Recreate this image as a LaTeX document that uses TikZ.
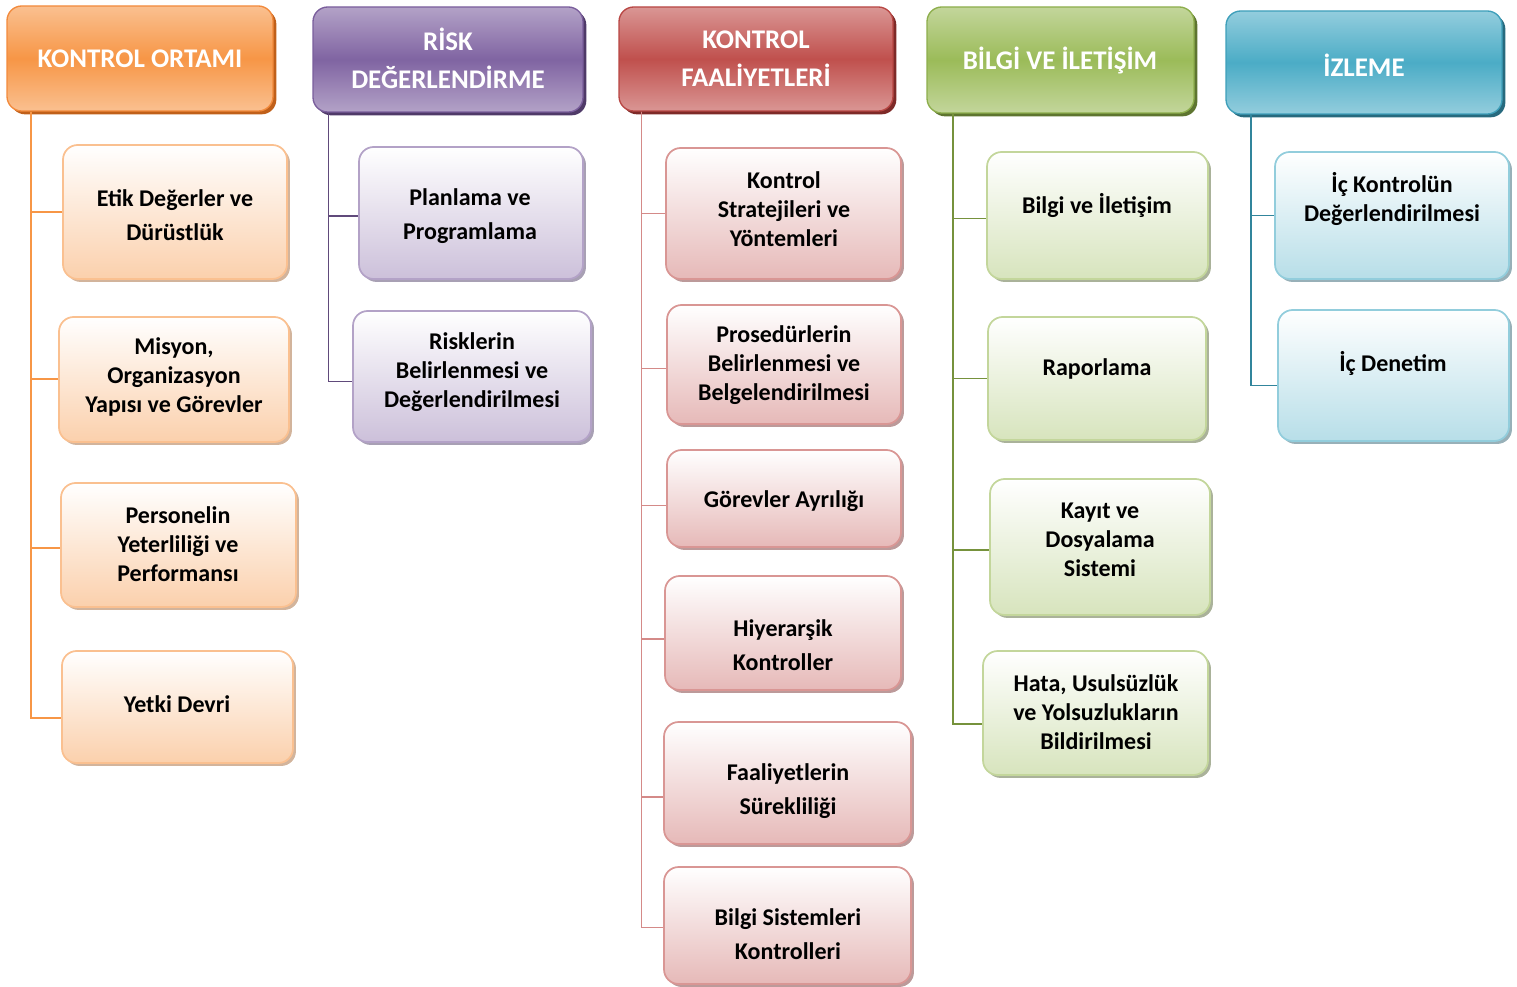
\documentclass[tikz,border=0pt]{standalone}
\usepackage{fontspec}
\setmainfont{Carlito}
\usetikzlibrary{shadows,calc}
\definecolor{oMid}{HTML}{F79646}\definecolor{oLight}{HTML}{FAC090}\definecolor{oBord}{HTML}{F28A3C}\definecolor{oShad}{HTML}{C0601A}
\definecolor{oCb}{HTML}{FAC090}\definecolor{oCf}{HTML}{FBD0AC}\definecolor{oCs}{HTML}{D2B49C}\definecolor{oLine}{HTML}{F79646}
\definecolor{pMid}{HTML}{8064A2}\definecolor{pLight}{HTML}{B3A2C7}\definecolor{pBord}{HTML}{7A5E9C}\definecolor{pShad}{HTML}{4F3A68}
\definecolor{pCb}{HTML}{B3A2C7}\definecolor{pCf}{HTML}{CCC0DA}\definecolor{pCs}{HTML}{A8A0B4}\definecolor{pLine}{HTML}{604A7B}
\definecolor{rMid}{HTML}{C0504D}\definecolor{rLight}{HTML}{DA9694}\definecolor{rBord}{HTML}{B84744}\definecolor{rShad}{HTML}{7E2A28}
\definecolor{rCb}{HTML}{D99694}\definecolor{rCf}{HTML}{E6B9B8}\definecolor{rCs}{HTML}{BC9A9A}\definecolor{rLine}{HTML}{D48A88}
\definecolor{gMid}{HTML}{9BBB59}\definecolor{gLight}{HTML}{C3D69B}\definecolor{gBord}{HTML}{8DAE4C}\definecolor{gShad}{HTML}{5E7530}
\definecolor{gCb}{HTML}{C3D69B}\definecolor{gCf}{HTML}{D7E4BD}\definecolor{gCs}{HTML}{AAB29A}\definecolor{gLine}{HTML}{76923C}
\definecolor{bMid}{HTML}{4BACC6}\definecolor{bLight}{HTML}{93CDDD}\definecolor{bBord}{HTML}{3E9FBA}\definecolor{bShad}{HTML}{276A7E}
\definecolor{bCb}{HTML}{92CDDC}\definecolor{bCf}{HTML}{B7DEE8}\definecolor{bCs}{HTML}{98B0B8}\definecolor{bLine}{HTML}{31859C}
\tikzset{
  hbox/.style n args={4}{rounded corners=11pt, draw=#1, line width=1pt, top color=#2, bottom color=#2, middle color=#3,
    drop shadow={shadow xshift=2.5pt, shadow yshift=-2.5pt, fill=#4, opacity=1}, inner sep=0pt},
  cbox/.style n args={3}{rounded corners=11pt, draw=#1, line width=1.3pt, top color=white, bottom color=#2,
    drop shadow={shadow xshift=2.2pt, shadow yshift=-2.2pt, fill=#3, opacity=1}, inner sep=0pt},
  oh/.style={hbox={oBord}{oLight}{oMid}{oShad}}, oc/.style={cbox={oCb}{oCf}{oCs}},
  ph/.style={hbox={pBord}{pLight}{pMid}{pShad}}, pc/.style={cbox={pCb}{pCf}{pCs}},
  rh/.style={hbox={rBord}{rLight}{rMid}{rShad}}, rc/.style={cbox={rCb}{rCf}{rCs}},
  gh/.style={hbox={gBord}{gLight}{gMid}{gShad}}, gc/.style={cbox={gCb}{gCf}{gCs}},
  bh/.style={hbox={bBord}{bLight}{bMid}{bShad}}, bc/.style={cbox={bCb}{bCf}{bCs}},
  htext/.style={align=center, text=white, font=\fontsize{20.2}{28.5}\selectfont\bfseries, inner sep=0pt},
  ctext/.style={align=center, text=black, font=\fontsize{18}{21.75}\selectfont\bfseries, inner sep=0pt},
  ctextw/.style={align=center, text=black, font=\fontsize{18}{25.5}\selectfont\bfseries, inner sep=0pt},
  oline/.style={draw=oLine, line width=1.5pt},
  pline/.style={draw=pLine, line width=1.2pt},
  rline/.style={draw=rLine, line width=1.2pt},
  gline/.style={draw=gLine, line width=1.3pt},
  bline/.style={draw=bLine, line width=1.3pt},
}
\newcommand\bx[6]{\node[#2, minimum width={(#5-#3)*0.75pt}, minimum height={(#6-#4)*0.75pt}] (#1) at ({(#3+#5)/2},{(#4+#6)/2}) {};}
\begin{document}
\begin{tikzpicture}[x=0.75pt,y=-0.75pt]
\useasboundingbox (0,0) rectangle (1517,987);
% headers
\bx{h1}{oh}{7}{6}{273}{111}
\bx{h2}{ph}{313}{7}{583}{112}
\bx{h3}{rh}{619}{7}{893}{111}
\bx{h4}{gh}{927}{7}{1194}{113}
\bx{h5}{bh}{1226}{11}{1502}{114}
% children
\bx{c11}{oc}{63}{145}{287}{279}
\bx{c12}{oc}{59}{317}{289}{442}
\bx{c13}{oc}{61}{483}{296}{607}
\bx{c14}{oc}{62}{651}{293}{763}
\bx{c21}{pc}{359}{147}{583}{279}
\bx{c22}{pc}{353}{311}{591}{442}
\bx{c31}{rc}{666}{148}{901}{279}
\bx{c32}{rc}{667}{305}{901}{424}
\bx{c33}{rc}{667}{450}{901}{547}
\bx{c34}{rc}{665}{576}{901}{690}
\bx{c35}{rc}{664}{722}{911}{844}
\bx{c36}{rc}{664}{867}{911}{984}
\bx{c41}{gc}{987}{152}{1208}{279}
\bx{c42}{gc}{988}{317}{1206}{440}
\bx{c43}{gc}{990}{479}{1210}{615}
\bx{c44}{gc}{983}{651}{1208}{775}
\bx{c51}{bc}{1275}{152}{1509}{279}
\bx{c52}{bc}{1278}{310}{1509}{441}
% connectors
\foreach \c/\d in {c11/0,c12/0,c13/3,c14/11}{\draw[oline] ($(h1.south west)+(25,0)$) |- ($(\c.west)+(0,\d)$);}
\foreach \c/\d in {c21/3,c22/5}{\draw[pline] ($(h2.south west)+(16,0)$) |- ($(\c.west)+(0,\d)$);}
\foreach \c/\d in {c31/0,c32/4,c33/7,c34/6,c35/14,c36/2}{\draw[rline] ($(h3.south west)+(23,0)$) |- ($(\c.west)+(0,\d)$);}
\foreach \c/\d in {c41/3,c42/0,c43/3,c44/11}{\draw[gline] ($(h4.south west)+(27,0)$) |- ($(\c.west)+(0,\d)$);}
\foreach \c/\d in {c51/0,c52/10}{\draw[bline] ($(h5.south west)+(26,0)$) |- ($(\c.west)+(0,\d)$);}
% header texts
\node[htext] (h1t) at (140,59) {KONTROL ORTAMI};
\node[htext] (h2t) at (448,58.5) {RİSK\\DEĞERLENDİRME};
\node[htext] (h3t) at (756,58.5) {KONTROL\\FAALİYETLERİ};
\node[htext] (h4t) at (1060,61) {BİLGİ VE İLETİŞİM};
\node[htext] (h5t) at (1364,65) {İZLEME};
% child texts
\node[ctextw] (c11t) at (175,215) {Etik Değerler ve\\Dürüstlük};
\node[ctext] (c12t) at (174,377) {Misyon,\\Organizasyon\\Yapısı ve Görevler};
\node[ctext] (c13t) at (178,544) {Personelin\\Yeterliliği ve\\Performansı};
\node[ctext] (c14t) at (177,704) {Yetki Devri};
\node[ctextw] (c21t) at (470,216) {Planlama ve\\Programlama};
\node[ctext] (c22t) at (472,372) {Risklerin\\Belirlenmesi ve\\Değerlendirilmesi};
\node[ctext] (c31t) at (784,209) {Kontrol\\Stratejileri ve\\Yöntemleri};
\node[ctext] (c32t) at (784,365) {Prosedürlerin\\Belirlenmesi ve\\Belgelendirilmesi};
\node[ctext] (c33t) at (784,501) {Görevler Ayrılığı};
\node[ctextw] (c34t) at (783,645) {Hiyerarşik\\Kontroller};
\node[ctextw] (c35t) at (788,791) {Faaliyetlerin\\Sürekliliği};
\node[ctextw] (c36t) at (788,934) {Bilgi Sistemleri\\Kontrolleri};
\node[ctext] (c41t) at (1097,205) {Bilgi ve İletişim};
\node[ctext] (c42t) at (1097,369) {Raporlama};
\node[ctext] (c43t) at (1100,540) {Kayıt ve\\Dosyalama\\Sistemi};
\node[ctext] (c44t) at (1096,712) {Hata, Usulsüzlük\\ve Yolsuzlukların\\Bildirilmesi};
\node[ctext] (c51t) at (1392,198.5) {İç Kontrolün\\Değerlendirilmesi};
\node[ctext] (c52t) at (1393,363) {İç Denetim};
\end{tikzpicture}
\end{document}
